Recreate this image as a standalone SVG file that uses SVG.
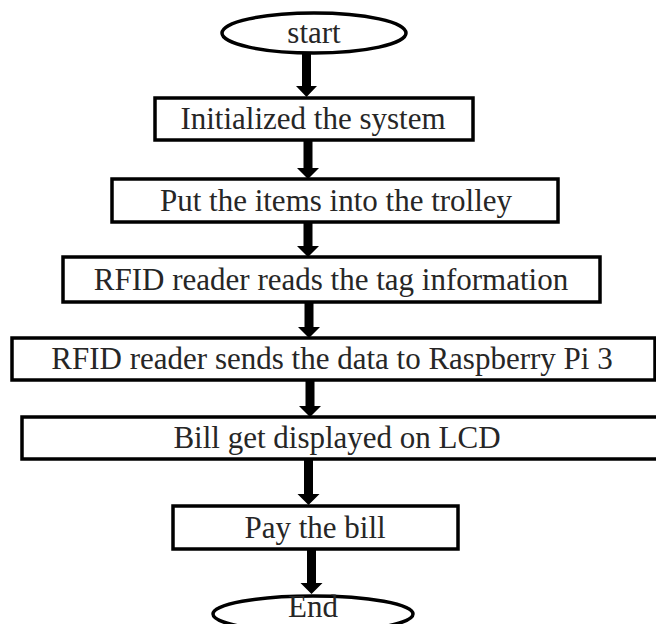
<svg xmlns="http://www.w3.org/2000/svg" width="656" height="624" viewBox="0 0 656 624">
<style>
.n{fill:#fff;stroke:#000;stroke-width:3.5}
.t{font-family:"Liberation Serif","Times New Roman",serif;font-size:31px;fill:#262626;text-anchor:middle}
.a{fill:#000}
</style>
<rect width="656" height="624" fill="#fff"/>
<g id="start"><ellipse class="n" cx="314" cy="33" rx="92" ry="20"/><text class="t" x="314" y="43">start</text></g>
<g id="init"><rect class="n" x="155" y="98" width="318" height="42"/><text class="t" x="313" y="129">Initialized the system</text></g>
<g id="put"><rect class="n" x="112" y="179" width="446" height="43"/><text class="t" x="336" y="211">Put the items into the trolley</text></g>
<g id="read"><rect class="n" x="63" y="257" width="537" height="45"/><text class="t" x="331" y="290">RFID reader reads the tag information</text></g>
<g id="send"><rect class="n" x="12" y="338" width="643" height="42"/><text class="t" x="332" y="369">RFID reader sends the data to Raspberry Pi 3</text></g>
<g id="bill"><rect class="n" x="22" y="417" width="640" height="42"/><text class="t" x="337" y="448">Bill get displayed on LCD</text></g>
<g id="pay"><rect class="n" x="173" y="506" width="285" height="43"/><text class="t" x="315" y="538">Pay the bill</text></g>
<g id="end"><ellipse class="n" cx="313" cy="614" rx="100" ry="18"/><text class="t" x="313" y="617">End</text></g>
<g id="connectors">
<polygon class="a" points="302,53 311,53 311,86 317,86 306.5,97 296,86 302,86"/>
<polygon class="a" points="303.5,140 312.5,140 312.5,168 319,168 308,179 297,168 303.5,168"/>
<polygon class="a" points="303.5,222 312.5,222 312.5,246 319,246 308,257 297,246 303.5,246"/>
<polygon class="a" points="304.5,302 313.5,302 313.5,327 320,327 309,338 298,327 304.5,327"/>
<polygon class="a" points="305.5,380 314.5,380 314.5,406 321,406 310,417 299,406 305.5,406"/>
<polygon class="a" points="304,459 313,459 313,494 319.5,494 308.5,505 297.5,494 304,494"/>
<polygon class="a" points="307,549 316,549 316,583 322.5,583 311.5,594 300.5,583 307,583"/>
</g>
</svg>
